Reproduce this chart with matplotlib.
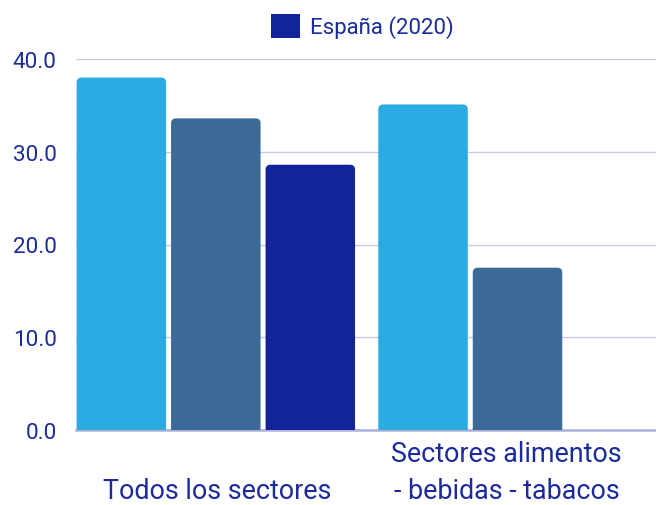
import matplotlib
matplotlib.use("Agg")
import matplotlib.pyplot as plt
from matplotlib.patches import FancyBboxPatch, Patch
import matplotlib.transforms as mtransforms
import numpy as np

categories = ["Todos los sectores", "Sectores alimentos\n- bebidas - tabacos"]
serie_a = [38.0, 35.1]
serie_b = [33.6, 17.5]
serie_c = [28.6, 0.0]
legend_label = "España (2020)"
yticks = [0, 10, 20, 30, 40]

colors = ["#2BABE2", "#3B6998", "#13239A"]
text_color = "#1B2A9C"

plt.rcParams['font.family'] = ['Roboto', 'DejaVu Sans']

fig = plt.figure(figsize=(6.56, 5.06), dpi=100)
ax = fig.add_axes([76/656, 1 - 431/506, 1 - 76/656, (431 - 60)/506])

x = np.arange(len(categories))
w = 0.2966
off = 0.3132
series = [serie_a, serie_b, serie_c]
containers = []
for i, vals in enumerate(series):
    c = ax.bar(x + (i - 1) * off, vals, width=w, color=colors[i], zorder=3)
    containers.append(c)

ax.set_xlim(-0.4634, 1.459)
ax.set_ylim(0, 40)

# rounded tops
fig.canvas.draw()
px_per_x = ax.transData.transform((1, 0))[0] - ax.transData.transform((0, 0))[0]
px_per_y = ax.transData.transform((0, 1))[1] - ax.transData.transform((0, 0))[1]
r_px = 5
for i, c in enumerate(containers):
    for p in c.patches:
        h = p.get_height()
        p.set_visible(False)
        if h <= 0:
            continue
        fb = FancyBboxPatch((p.get_x(), -2), p.get_width(), h + 2,
                            boxstyle=f"round,pad=0,rounding_size={r_px/px_per_x}",
                            mutation_aspect=px_per_x / px_per_y,
                            facecolor=colors[i], edgecolor="none", zorder=3)
        ax.add_patch(fb)

ax.set_yticks(yticks)
ax.set_yticklabels([f"{v:.1f}" for v in yticks])
ax.grid(axis='y', color="#C9C9EA", linewidth=1.0, zorder=0)
ax.set_axisbelow(True)
for s in ["top", "right", "left"]:
    ax.spines[s].set_visible(False)
ax.spines["bottom"].set_color("#AEB0DA")
ax.spines["bottom"].set_linewidth(1.8)
ax.tick_params(axis='y', length=0, pad=14, labelcolor=text_color, labelsize=16.2)
ax.tick_params(axis='x', length=0)
ax.set_xticks(x)
ax.set_xticklabels(categories, color=text_color, fontsize=19.4, va='bottom',
                   linespacing=1.51)
label_dx = [1.5, -11]  # pixel nudges
for lbl, dx in zip(ax.get_xticklabels(), label_dx):
    lbl.set_transform(ax.get_xaxis_transform() +
                      mtransforms.ScaledTranslation(dx / 100, -74.5 / 100, fig.dpi_scale_trans))

handle = Patch(facecolor=colors[2], edgecolor="none")
fig.legend([handle], [legend_label], loc='center', bbox_to_anchor=(362.8/656, 1 - 27/506),
           frameon=False, fontsize=16, labelcolor=text_color,
           handlelength=1.3, handleheight=1.3, handletextpad=0.45)

fig.savefig("out.png", dpi=100)
